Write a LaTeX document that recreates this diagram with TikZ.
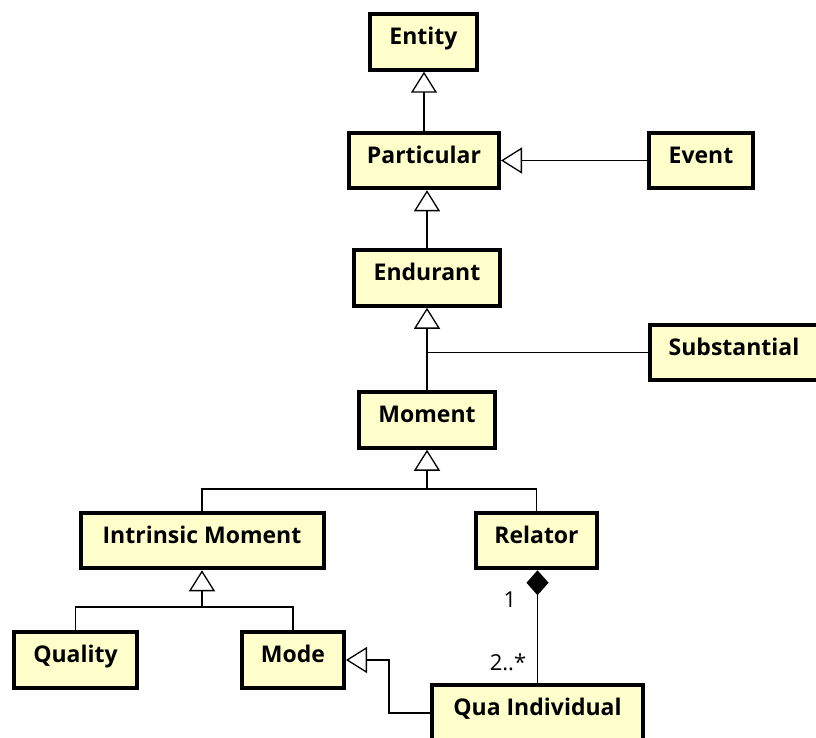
\documentclass[tikz,border=0pt]{standalone}
\usepackage{fontspec}
\setmainfont{Open Sans}
\usetikzlibrary{arrows.meta}
\definecolor{boxfill}{HTML}{FFFFCC}
\tikzset{
  cls/.style={draw=black, line width=4pt, fill=boxfill, inner sep=0pt,
    font=\fontsize{23}{26}\selectfont\bfseries, text height=30.5pt, text depth=25pt},
  conn/.style={line width=1.5pt, black},
  gen/.style={conn, -{Triangle[width=26pt,length=21pt,fill=white,line width=1.3pt]}},
  comp/.style={conn, -{Diamond[width=22pt,length=25pt,fill=black]}},
  mult/.style={font=\fontsize{22}{24}\selectfont, inner sep=0pt},
}
\begin{document}
\begin{tikzpicture}[x=1pt,y=-1pt]
\useasboundingbox (0,0) rectangle (816,738);
\begin{scope}
\clip (0,0) rectangle (816,738);
\node[cls, minimum width=107pt] (entity) at (423.5,42) {Entity};
\node[cls, minimum width=150pt] (particular) at (424,160.5) {Particular};
\node[cls, minimum width=104pt] (event) at (701,160.5) {Event};
\node[cls, minimum width=146pt] (endurant) at (427,278) {Endurant};
\node[cls, minimum width=168pt] (substantial) at (734,352.5) {Substantial};
\node[cls, minimum width=136pt] (moment) at (427,420) {Moment};
\node[cls, minimum width=243pt] (intrinsic) at (202,540.5) {Intrinsic Moment};
\node[cls, minimum width=121pt] (relator) at (536.5,540.5) {Relator};
\node[cls, minimum width=123pt] (quality) at (75.5,660) {Quality};
\node[cls, minimum width=102pt] (mode) at (293,660) {Mode};
\node[cls, minimum width=211pt] (qua) at (537.5,713) {Qua Individual};

% generalizations
\draw[gen] (particular.north) -- (particular.north |- entity.south);
\draw[gen] (event.west) -- (particular.east |- event.west);
\draw[gen] (endurant.north) -- (endurant.north |- particular.south);
\draw[gen] (moment.north) -- (endurant.south);
\draw[conn] (substantial.west) -- (substantial.west -| moment.north);
\coordinate (busA) at (427,489);
\draw[conn] (intrinsic.north) |- (busA) -| (relator.north);
\draw[gen] (busA) -- (moment.south);
\coordinate (busB) at (202,607);
\draw[conn] (quality.north) |- (busB) -| (mode.north);
\draw[gen] (busB) -- (intrinsic.south);
\draw[gen] (qua.west) -- ++(-41,0) |- (mode.east);
% composition
\draw[comp] (qua.north) -- (qua.north |- relator.south);
\node[mult] (m1) at (510,600) {1};
\node[mult] (m2) at (508,662) {2..*};
\end{scope}
\end{tikzpicture}
\end{document}
